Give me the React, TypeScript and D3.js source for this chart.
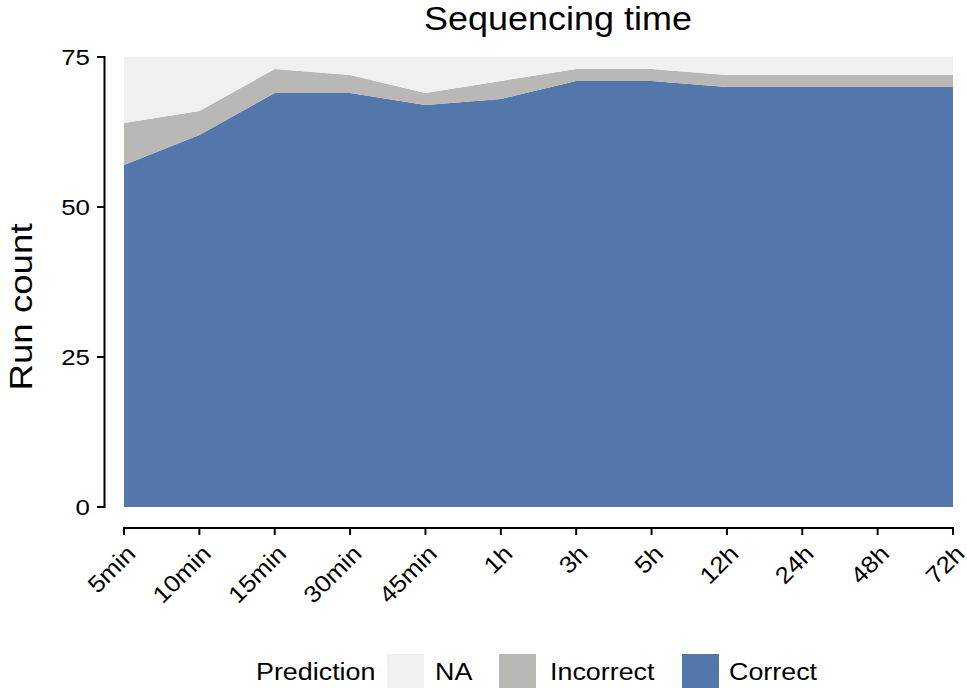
import React from "react";
import * as d3 from "d3";

const categories = ["5min", "10min", "15min", "30min", "45min", "1h", "3h", "5h", "12h", "24h", "48h", "72h"];
const correct = [57, 62, 69, 69, 67, 68, 71, 71, 70, 70, 70, 70];
const incorrect = [7, 4, 4, 3, 2, 3, 2, 2, 2, 2, 2, 2];
const na = [11, 9, 2, 3, 6, 4, 2, 2, 3, 3, 3, 3];
const yTicks = [0, 25, 50, 75];
const seriesKeys = ["Correct", "Incorrect", "NA"];
const legendKeys = ["NA", "Incorrect", "Correct"];
const colors: Record<string, string> = { Correct: "#5477ab", Incorrect: "#b9b8b4", NA: "#f1f0ee" };

const W = 967, H = 688;
const font = "'Liberation Sans', Arial, Helvetica, sans-serif";

function T(props: { x: number; y: number; size: number; sx?: number; rot?: number; anchor?: string; children: any }) {
  const { x, y, size, sx = 1.1, rot = 0, anchor = "start", children } = props;
  return (
    <text
      transform={`translate(${x},${y}) rotate(${rot}) scale(${sx},1)`}
      textAnchor={anchor}
      fontSize={size}
      fill="#000"
    >
      {children}
    </text>
  );
}

export default function App() {
  const x = d3.scalePoint<string>().domain(categories).range([124, 953]);
  const y = d3.scaleLinear().domain([0, 75]).range([507, 57]);
  const rows = categories.map((c, i) => ({ cat: c, Correct: correct[i], Incorrect: incorrect[i], NA: na[i] }));
  const stacked = d3.stack<any>().keys(seriesKeys)(rows);
  const area = d3.area<any>()
    .x((d) => x(d.data.cat) as number)
    .y0((d) => y(d[0]))
    .y1((d) => y(d[1]));

  const legendPos: Record<string, { bx: number; tx: number }> = {
    NA: { bx: 387, tx: 435 },
    Incorrect: { bx: 499, tx: 550 },
    Correct: { bx: 682, tx: 729 },
  };

  return (
    <svg width={W} height={H} style={{ position: "absolute", left: 0, top: 0, background: "#fff" }} fontFamily={font}>
      <T x={558} y={30} size={33} sx={1.09} anchor="middle">Sequencing time</T>
      {stacked.map((s) => (
        <path key={s.key} d={area(s) as string} fill={colors[s.key]} />
      ))}
      {/* y axis */}
      <line x1={104.5} x2={104.5} y1={y(75) - 1} y2={y(0) + 1} stroke="#000" strokeWidth={2} />
      {yTicks.map((t) => (
        <g key={t}>
          <line x1={97} x2={104.5} y1={y(t)} y2={y(t)} stroke="#000" strokeWidth={2} />
          <T x={90} y={y(t) + 8} size={22.5} sx={1.15} anchor="end">{t}</T>
        </g>
      ))}
      <T x={32} y={307} size={32} sx={1.146} rot={-90} anchor="middle">Run count</T>
      {/* x axis */}
      <line x1={(x(categories[0]) as number) - 1} x2={(x(categories[categories.length - 1]) as number) + 1} y1={528} y2={528} stroke="#000" strokeWidth={2} />
      {categories.map((c) => (
        <g key={c}>
          <line x1={x(c)} x2={x(c)} y1={528} y2={535} stroke="#000" strokeWidth={2} />
          <T x={(x(c) as number) + 13} y={555} size={23.5} sx={1.1} rot={-45} anchor="end">{c}</T>
        </g>
      ))}
      {/* legend */}
      <T x={256} y={680} size={24} sx={1.12}>Prediction</T>
      {legendKeys.map((k) => (
        <g key={k}>
          <rect x={legendPos[k].bx} y={654} width={37} height={37} fill={colors[k]} />
          <T x={legendPos[k].tx} y={680} size={24} sx={1.12}>{k}</T>
        </g>
      ))}
    </svg>
  );
}
